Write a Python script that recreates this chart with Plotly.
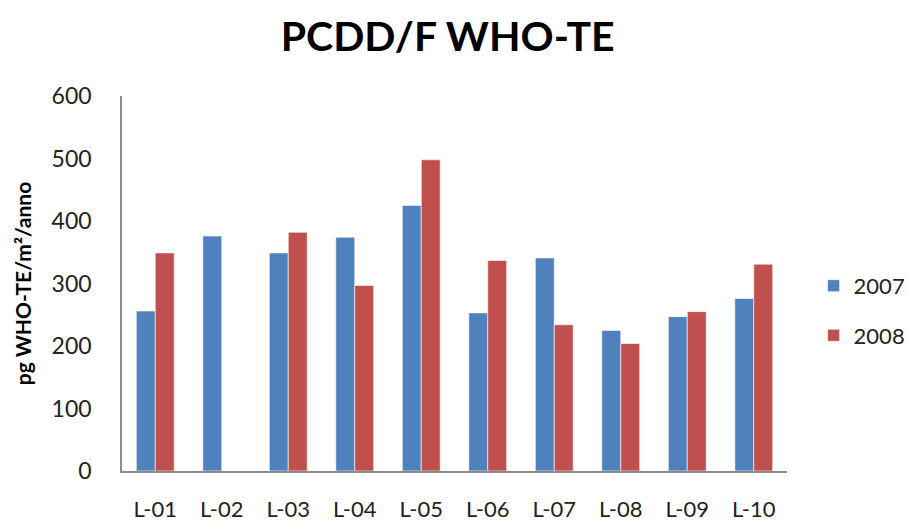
import plotly.graph_objects as go

categories = ["L-01", "L-02", "L-03", "L-04", "L-05", "L-06", "L-07", "L-08", "L-09", "L-10"]
values_2007 = [256, 376, 349, 374, 425, 253, 341, 225, 247, 276]
values_2008 = [349, None, 382, 297, 498, 337, 234, 204, 255, 331]
y_ticks = [0, 100, 200, 300, 400, 500, 600]

FONT = "Lato, 'Open Sans', sans-serif"

fig = go.Figure()
fig.add_trace(go.Bar(x=categories, y=values_2007, name="2007", legendgroup="a",
                     marker=dict(color="#4F81BD", line=dict(color="rgba(255,255,255,0.6)", width=1))))
fig.add_trace(go.Bar(x=categories, y=values_2008, name="2008", legendgroup="b",
                     marker=dict(color="#C0504D", line=dict(color="rgba(255,255,255,0.6)", width=1))))

fig.update_layout(
    width=908, height=523,
    margin=dict(l=122, r=121, t=96, b=52, autoexpand=False),
    paper_bgcolor="white", plot_bgcolor="white",
    barmode="group", bargap=0.43, bargroupgap=0,
    title=dict(text="<b>PCDD/F WHO-TE</b>", x=0.493, xanchor="center", y=0.93, yanchor="middle",
               font=dict(family=FONT, size=41, color="black")),
    font=dict(family=FONT, color="#222222"),
    legend=dict(x=1.04, y=0.427, xanchor="left", yanchor="middle", tracegroupgap=18,
                font=dict(size=22, color="#222222"), bgcolor="rgba(0,0,0,0)"),
    xaxis=dict(showline=True, linecolor="#8a8a8a", linewidth=1.5, ticks="", automargin=False,
               tickfont=dict(size=22, color="#222222"), ticklabelstandoff=18,
               showgrid=False, range=[-0.5, 9.5]),
    yaxis=dict(range=[0, 600], tickvals=y_ticks, showline=True, linecolor="#8a8a8a", linewidth=1.5,
               ticks="", showgrid=False, zeroline=False, ticklabelstandoff=24, automargin=False,
               tickfont=dict(size=23, color="#222222"),
               title=dict(text="<b>pg WHO-TE/m²/anno</b>", font=dict(size=21, color="black"), standoff=14)),
)

fig.write_html("out.html")
